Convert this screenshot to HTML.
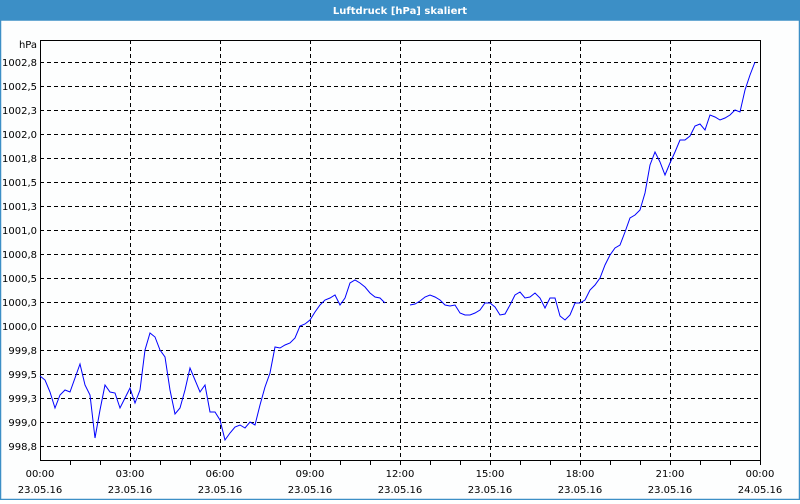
<!DOCTYPE html>
<html><head><style>
body{margin:0;width:800px;height:500px;overflow:hidden;background:#fff;font-family:Tahoma,"DejaVu Sans","Liberation Sans",sans-serif;}
</style></head><body>
<svg width="800" height="500" xmlns="http://www.w3.org/2000/svg" font-family="'DejaVu Sans','Liberation Sans',sans-serif" font-size="10">
<rect x="0" y="0" width="800" height="500" fill="#fdfefe"/>
<rect x="0" y="0" width="800" height="20" fill="#3c8fc6"/>
<rect x="0.5" y="20" width="799" height="479.5" fill="none" stroke="#3c8fc6" stroke-width="1.5"/>
<text x="400" y="14" fill="#fff" font-weight="bold" text-anchor="middle">Luftdruck [hPa] skaliert</text>
<g stroke="#000" stroke-dasharray="4,3" stroke-width="1">
<line x1="40" x2="760" y1="62.5" y2="62.5"/><line x1="40" x2="760" y1="86.5" y2="86.5"/><line x1="40" x2="760" y1="110.5" y2="110.5"/><line x1="40" x2="760" y1="134.5" y2="134.5"/><line x1="40" x2="760" y1="158.5" y2="158.5"/><line x1="40" x2="760" y1="182.5" y2="182.5"/><line x1="40" x2="760" y1="206.5" y2="206.5"/><line x1="40" x2="760" y1="230.5" y2="230.5"/><line x1="40" x2="760" y1="254.5" y2="254.5"/><line x1="40" x2="760" y1="278.5" y2="278.5"/><line x1="40" x2="760" y1="302.5" y2="302.5"/><line x1="40" x2="760" y1="326.5" y2="326.5"/><line x1="40" x2="760" y1="350.5" y2="350.5"/><line x1="40" x2="760" y1="374.5" y2="374.5"/><line x1="40" x2="760" y1="398.5" y2="398.5"/><line x1="40" x2="760" y1="422.5" y2="422.5"/><line x1="40" x2="760" y1="446.5" y2="446.5"/>
<line x1="130.5" x2="130.5" y1="40" y2="460"/><line x1="220.5" x2="220.5" y1="40" y2="460"/><line x1="310.5" x2="310.5" y1="40" y2="460"/><line x1="400.5" x2="400.5" y1="40" y2="460"/><line x1="490.5" x2="490.5" y1="40" y2="460"/><line x1="580.5" x2="580.5" y1="40" y2="460"/><line x1="670.5" x2="670.5" y1="40" y2="460"/>
</g>
<rect x="40.5" y="40.5" width="720" height="420" fill="none" stroke="#000"/>
<g stroke="#000">
<line x1="70.5" x2="70.5" y1="460" y2="465"/><line x1="100.5" x2="100.5" y1="460" y2="465"/><line x1="130.5" x2="130.5" y1="460" y2="465"/><line x1="160.5" x2="160.5" y1="460" y2="465"/><line x1="190.5" x2="190.5" y1="460" y2="465"/><line x1="220.5" x2="220.5" y1="460" y2="465"/><line x1="250.5" x2="250.5" y1="460" y2="465"/><line x1="280.5" x2="280.5" y1="460" y2="465"/><line x1="310.5" x2="310.5" y1="460" y2="465"/><line x1="340.5" x2="340.5" y1="460" y2="465"/><line x1="370.5" x2="370.5" y1="460" y2="465"/><line x1="400.5" x2="400.5" y1="460" y2="465"/><line x1="430.5" x2="430.5" y1="460" y2="465"/><line x1="460.5" x2="460.5" y1="460" y2="465"/><line x1="490.5" x2="490.5" y1="460" y2="465"/><line x1="520.5" x2="520.5" y1="460" y2="465"/><line x1="550.5" x2="550.5" y1="460" y2="465"/><line x1="580.5" x2="580.5" y1="460" y2="465"/><line x1="610.5" x2="610.5" y1="460" y2="465"/><line x1="640.5" x2="640.5" y1="460" y2="465"/><line x1="670.5" x2="670.5" y1="460" y2="465"/><line x1="700.5" x2="700.5" y1="460" y2="465"/><line x1="730.5" x2="730.5" y1="460" y2="465"/><line x1="760.5" x2="760.5" y1="460" y2="465"/>
</g>
<g text-anchor="end" fill="#000">
<text x="37" y="48">hPa</text>
<text x="37" y="66">1002,8</text><text x="37" y="90">1002,5</text><text x="37" y="114">1002,3</text><text x="37" y="138">1002,0</text><text x="37" y="162">1001,8</text><text x="37" y="186">1001,5</text><text x="37" y="210">1001,3</text><text x="37" y="234">1001,0</text><text x="37" y="258">1000,8</text><text x="37" y="282">1000,5</text><text x="37" y="306">1000,3</text><text x="37" y="330">1000,0</text><text x="37" y="354">999,8</text><text x="37" y="378">999,5</text><text x="37" y="402">999,3</text><text x="37" y="426">999,0</text><text x="37" y="450">998,8</text>
</g>
<g text-anchor="middle" fill="#000">
<text x="40" y="477">00:00</text><text x="40" y="493">23.05.16</text>
<text x="130" y="477">03:00</text><text x="130" y="493">23.05.16</text>
<text x="220" y="477">06:00</text><text x="220" y="493">23.05.16</text>
<text x="310" y="477">09:00</text><text x="310" y="493">23.05.16</text>
<text x="400" y="477">12:00</text><text x="400" y="493">23.05.16</text>
<text x="490" y="477">15:00</text><text x="490" y="493">23.05.16</text>
<text x="580" y="477">18:00</text><text x="580" y="493">23.05.16</text>
<text x="670" y="477">21:00</text><text x="670" y="493">23.05.16</text>
<text x="760" y="477">00:00</text><text x="760" y="493">24.05.16</text>
</g>
<g fill="none" stroke="#0000ff" stroke-width="1">
<polyline points="40,376 45,380 50,392 55,408 60,395 65,390 70,392 75,378 80,364 85,385 90,395 95,438 100,410 105,385 110,392 115,393 120,408 125,398 130,388 135,403 140,390 145,350 150,333 155,337 160,350 165,357 170,390 175,414 180,408 185,390 190,368 195,380 200,392 205,385 210,412 215,412 220,420 225,440 230,433 235,427 240,425 245,428 250,422 255,425 260,405 265,387 270,373 275,347 280,348 285,345 290,343 295,338 300,326 305,324 310,320 315,312 320,305 325,300 330,298 335,295 340,305 345,298 350,283 355,280 360,283 365,287 370,293 375,297 380,298 385,303"/>
<polyline points="410,305 415,304 420,301 425,297 430,295 435,297 440,300 445,305 450,306 455,305 460,313 465,315 470,315 475,313 480,310 485,303 490,303 495,307 500,315 505,314 510,305 515,295 520,292 525,298 530,297 535,293 540,298 545,308 550,298 555,298 560,316 565,320 570,315 575,303 580,303 585,300 590,290 595,285 600,278 605,265 610,255 615,248 620,245 625,232 630,218 635,215 640,210 645,193 650,165 655,152 660,162 665,175 670,163 675,152 680,140 685,140 690,136 695,126 700,124 705,130 710,115 715,117 720,120 725,118 730,115 735,110 740,112 745,90 750,75 755,62"/>
</g>
</svg>
</body></html>
